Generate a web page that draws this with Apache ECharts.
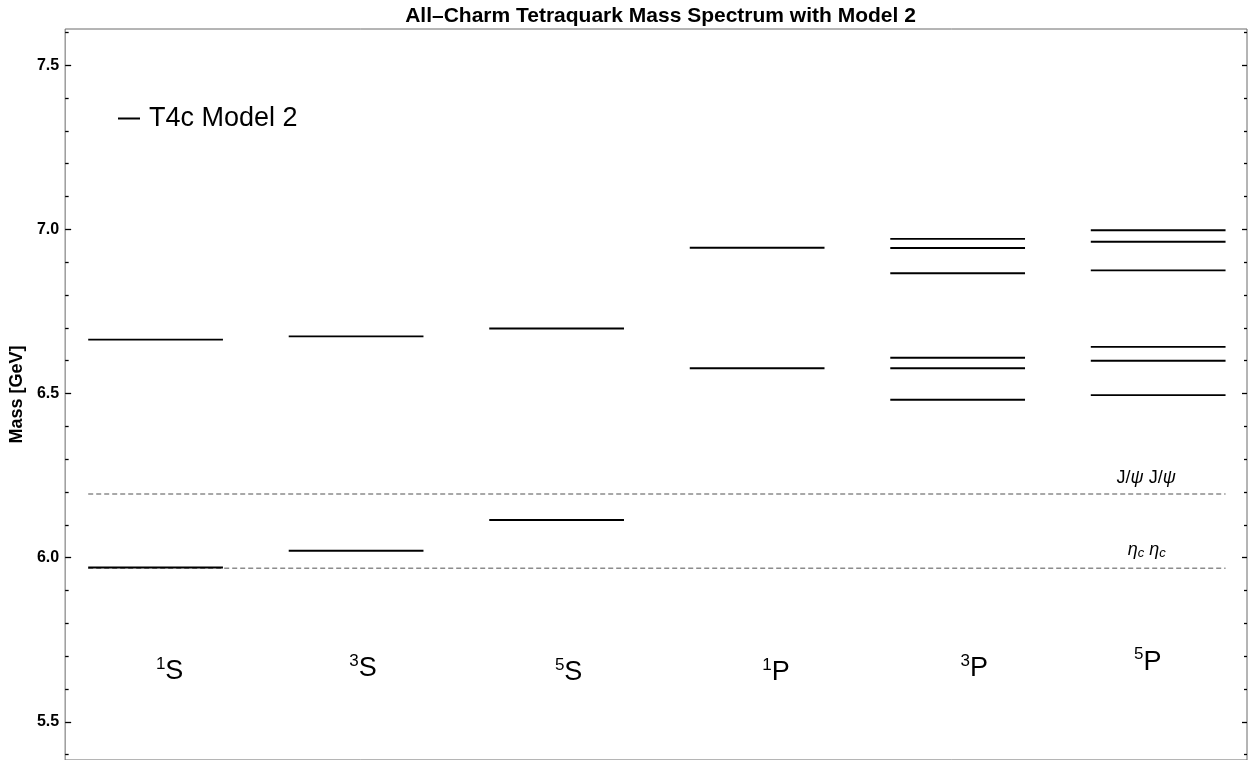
<!DOCTYPE html>
<html><head><meta charset="utf-8">
<script src="https://cdn.jsdelivr.net/npm/echarts@6/dist/echarts.min.js"></script>
<style>html,body{margin:0;padding:0;background:#fff}#c{width:1258px;height:760px}</style>
</head><body><div id="c"></div>
<script>
// ---- data ----
const multiplicities = ['1', '3', '5', '1', '3', '5'];
const orbitals = ['S', 'S', 'S', 'P', 'P', 'P'];
const mass1S = [6.664, 5.970];
const mass3S = [6.674, 6.021];
const mass5S = [6.698, 6.115];
const mass1P = [6.944, 6.577];
const mass3P = [6.971, 6.943, 6.866, 6.609, 6.577, 6.481];
const mass5P = [6.997, 6.962, 6.875, 6.642, 6.600, 6.495];
const thresholdMasses = [6.194, 5.968];
const majorTicks = [5.5, 6.0, 6.5, 7.0, 7.5];
const minorTicks = [5.4, 5.6, 5.7, 5.8, 5.9, 6.1, 6.2, 6.3, 6.4, 6.6, 6.7, 6.8, 6.9, 7.1, 7.2, 7.3, 7.4, 7.6];

// ---- layout (positions in data units, kept separate from data) ----
const HALF = 0.336;
const catLabelPos = [[1.070, 5.653], [2.034, 5.661], [3.060, 5.649], [4.094, 5.649], [5.083, 5.662], [5.948, 5.682]];
const thrLabelPos = [[5.940, 6.242], [5.943, 6.024]];

const FONT = '"Liberation Sans", Arial, sans-serif';
const levels = [mass1S, mass3S, mass5S, mass1P, mass3P, mass5P];
const levelData = [];
levels.forEach((arr, i) => arr.forEach(m => levelData.push([i + 1, m])));
const nCat = levels.length;

const chart = echarts.init(document.getElementById('c'), null, {renderer: 'canvas'});

function yAx(pos, ticks, len, labels, extra) {
  return Object.assign({
    type: 'value', position: pos, min: 5.384, max: 7.61,
    axisLine: {show: false},
    axisTick: {show: true, inside: true, length: len, customValues: ticks, lineStyle: {color: '#000', width: 1.3}},
    axisLabel: labels ? {show: true, customValues: ticks, margin: 6, fontFamily: FONT, fontWeight: 'bold', fontSize: 16, color: '#000', formatter: v => v.toFixed(1)} : {show: false},
    splitLine: {show: false}
  }, extra || {});
}

const option = {
  backgroundColor: '#fff',
  animation: false,
  title: {
    text: 'All\u2013Charm Tetraquark Mass Spectrum with Model 2',
    left: 655.5, top: 1, textAlign: 'center',
    textStyle: {fontFamily: FONT, fontWeight: 'bold', fontSize: 21, color: '#000'}
  },
  legend: {
    left: 113, top: 100, orient: 'vertical',
    itemWidth: 22, itemHeight: 2,
    data: [{name: 'T4c Model 2', icon: 'rect', itemStyle: {color: '#000'}}],
    textStyle: {fontFamily: FONT, fontSize: 27, color: '#000', padding: [0, 0, 0, 4]},
    selectedMode: false
  },
  grid: {left: 64, top: 29, width: 1183, height: 733, show: true, borderColor: '#6a6a6a', borderWidth: 1, backgroundColor: 'transparent'},
  xAxis: {type: 'value', min: 0.549, max: 6.443, show: false},
  yAxis: [
    yAx('left', majorTicks, 6, true, {
      name: 'Mass [GeV]', nameLocation: 'middle', nameGap: 33,
      nameTextStyle: {fontFamily: FONT, fontWeight: 'bold', fontSize: 18, color: '#000'}
    }),
    yAx('left', minorTicks, 3.5, false),
    yAx('right', majorTicks, 5, false, {offset: 0}),
    yAx('right', minorTicks, 3, false, {offset: 0})
  ],
  series: [
    {
      name: 'T4c Model 2', type: 'custom', yAxisIndex: 0, data: levelData,
      itemStyle: {color: '#000'},
      renderItem: (params, api) => {
        const x = api.value(0), y = api.value(1);
        const p1 = api.coord([x - HALF, y]), p2 = api.coord([x + HALF, y]);
        return {type: 'line', shape: {x1: p1[0], y1: p1[1], x2: p2[0], y2: p2[1]},
          style: {stroke: '#000', lineWidth: 1.9}};
      }
    },
    {
      name: 'thresholds', type: 'custom', yAxisIndex: 0, silent: true, z: 1,
      data: thresholdMasses.map(v => [v]),
      encode: {y: 0},
      renderItem: (params, api) => {
        const v = api.value(0);
        const p1 = api.coord([1 - HALF, v]), p2 = api.coord([nCat + HALF, v]);
        return {type: 'line', shape: {x1: p1[0], y1: p1[1], x2: p2[0], y2: p2[1]},
          style: {stroke: '#8c8c8c', lineWidth: 1.5, lineDash: [5, 3]}};
      }
    },
    {
      name: 'catLabels', type: 'scatter', yAxisIndex: 0, silent: true, symbolSize: 0,
      itemStyle: {opacity: 1},
      data: catLabelPos.map((p, i) => ({value: p, idx: i})),
      label: {
        show: true, position: 'inside', align: 'center', verticalAlign: 'middle', color: '#000', opacity: 1,
        formatter: p => '{sup|' + multiplicities[p.dataIndex] + '}{main|' + orbitals[p.dataIndex] + '}',
        rich: {
          sup: {fontFamily: FONT, fontSize: 17, color: '#000', verticalAlign: 'top', lineHeight: 17},
          main: {fontFamily: FONT, fontSize: 27, color: '#000', lineHeight: 32}
        }
      }
    },
    {
      name: 'thrLabels', type: 'scatter', yAxisIndex: 0, silent: true, symbolSize: 0,
      itemStyle: {opacity: 1},
      data: thrLabelPos,
      label: {
        show: true, position: 'inside', align: 'center', verticalAlign: 'middle', color: '#000', opacity: 1,
        formatter: p => p.dataIndex === 0
          ? '{n|J/}{i|\u03c8}{n| J/}{i|\u03c8}'
          : '{i|\u03b7}{s|c}{n| }{i|\u03b7}{s|c}',
        rich: {
          n: {fontFamily: FONT, fontSize: 18, color: '#000', lineHeight: 20},
          i: {fontFamily: FONT, fontSize: 18, fontStyle: 'italic', color: '#000', lineHeight: 20},
          s: {fontFamily: FONT, fontSize: 13, fontStyle: 'italic', color: '#000', lineHeight: 14, verticalAlign: 'bottom'}
        }
      }
    }
  ]
};
chart.setOption(option);
</script>
</body></html>
